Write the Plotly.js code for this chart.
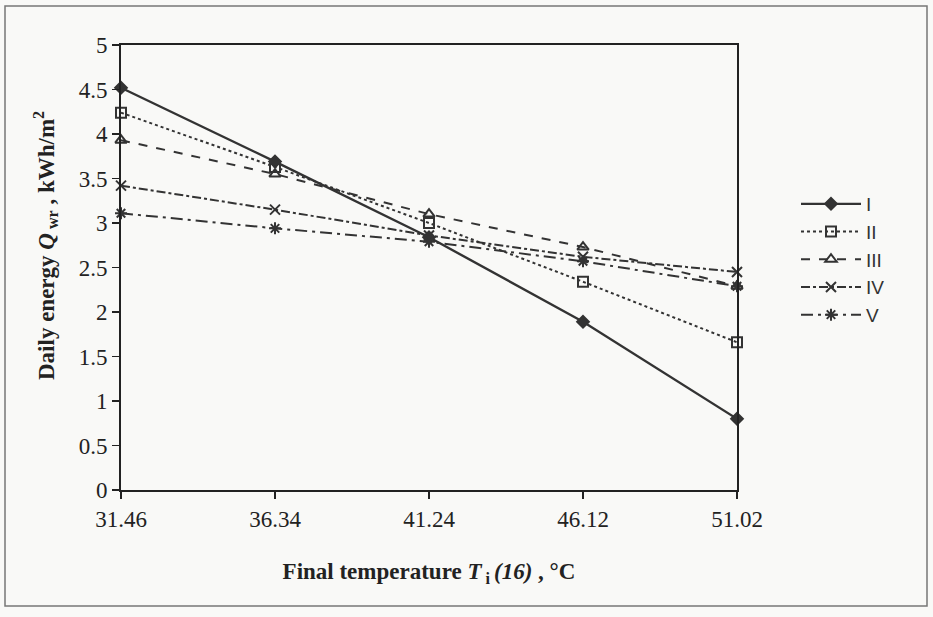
<!DOCTYPE html>
<html>
<head>
<meta charset="utf-8">
<script src="https://cdn.plot.ly/plotly-3.0.1.min.js"></script>
<style>html,body{margin:0;padding:0;background:#f9f9f7;}#chart{width:933px;height:617px;}</style>
</head>
<body>
<div id="chart"></div>
<script>
const categories = ["31.46", "36.34", "41.24", "46.12", "51.02"];
const seriesNames = ["I", "II", "III", "IV", "V"];
const seriesI   = [4.52, 3.69, 2.84, 1.89, 0.80];
const seriesII  = [4.24, 3.63, 3.00, 2.34, 1.66];
const seriesIII = [3.93, 3.55, 3.10, 2.73, 2.29];
const seriesIV  = [3.42, 3.15, 2.86, 2.62, 2.45];
const seriesV   = [3.11, 2.94, 2.79, 2.57, 2.29];
const yTicks = [0, 0.5, 1, 1.5, 2, 2.5, 3, 3.5, 4, 4.5, 5];
const xTitle = "<b>Final temperature <i>T</i><sub> i </sub><i>(16)</i> , °C</b>";
const yTitle = "<b>Daily energy <i>Q</i><sub> wr</sub> , kWh/m<sup>2</sup></b>";

const allSeries = [seriesI, seriesII, seriesIII, seriesIV, seriesV];
const symbols = ["diamond", "square-open", "triangle-up-open", "x-thin-open", "asterisk-open"];
const dashes = ["solid", "dot", "dash", "dashdot", "12px,5px,3px,5px"];
const ink = "#333333";
const serif = "Liberation Serif, Times New Roman, DejaVu Serif, serif";

const traces = allSeries.map((vals, i) => ({
  x: categories,
  y: vals,
  name: seriesNames[i],
  type: "scatter",
  mode: "lines+markers",
  cliponaxis: false,
  line: {color: ink, width: i === 0 ? 2.4 : 2, dash: dashes[i]},
  marker: {symbol: symbols[i], size: i === 0 ? 9 : 10, color: ink, line: {color: ink, width: 2}}
}));

const W = 933, H = 617;
const m = {l: 121, r: 196, t: 45, b: 127};
const pw = W - m.l - m.r, ph = H - m.t - m.b;
const px = v => (v - m.l) / pw;
const py = v => (H - m.b - v) / ph;

const layout = {
  width: W, height: H,
  margin: m,
  paper_bgcolor: "#f9f9f7",
  plot_bgcolor: "rgba(0,0,0,0)",
  showlegend: true,
  font: {family: serif, color: "#222", size: 23},
  xaxis: {
    type: "category",
    range: [0, 4],
    showgrid: false, zeroline: false,
    showline: true, mirror: true, linecolor: "#222", linewidth: 2,
    ticks: "outside", ticklen: 7, tickcolor: "#222", tickwidth: 1.5,
    tickfont: {family: serif, size: 23, color: "#222"},
    title: {text: xTitle, font: {family: serif, size: 23, color: "#222"}, standoff: 32}
  },
  yaxis: {
    range: [0, 5],
    tickvals: yTicks,
    ticktext: yTicks.map(String),
    showgrid: false, zeroline: false,
    showline: true, mirror: true, linecolor: "#222", linewidth: 2,
    ticks: "outside", ticklen: 7, tickcolor: "#222", tickwidth: 1.5,
    tickfont: {family: serif, size: 23, color: "#222"}
  },
  annotations: [{
    text: yTitle, textangle: -90,
    xref: "paper", yref: "paper",
    x: px(45), y: py(246), xanchor: "center", yanchor: "middle",
    showarrow: false,
    font: {family: serif, size: 23, color: "#222"}
  }],
  legend: {
    x: px(796), y: py(185), xanchor: "left", yanchor: "top",
    bgcolor: "rgba(0,0,0,0)",
    font: {family: "Liberation Sans, Arial, sans-serif", size: 19, color: "#333"},
    tracegroupgap: 0,
    itemwidth: 60
  },
  shapes: [{
    type: "rect", xref: "paper", yref: "paper",
    x0: px(5), x1: px(927), y0: py(606), y1: py(6),
    line: {color: "#777", width: 1.5}
  }]
};

Plotly.newPlot("chart", traces, layout, {displayModeBar: false, staticPlot: true});
</script>
</body>
</html>
